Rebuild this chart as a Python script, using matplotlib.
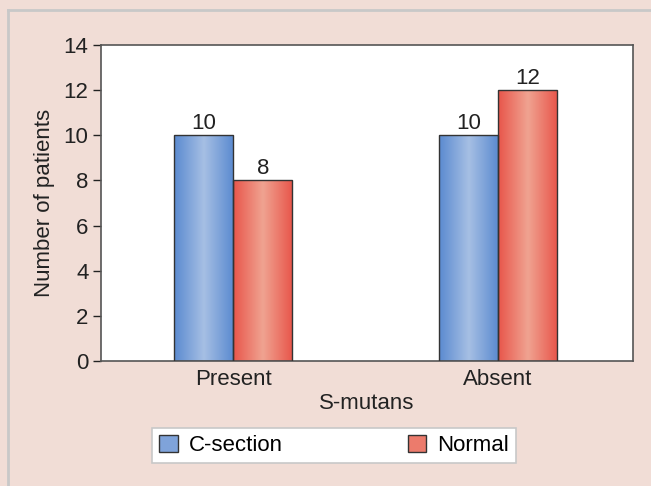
import numpy as np
import matplotlib.pyplot as plt
from matplotlib.patches import Patch, Rectangle
from matplotlib.colors import LinearSegmentedColormap

plt.rcParams['font.family'] = ['Liberation Sans', 'DejaVu Sans']

categories = ['Present', 'Absent']
c_section = [10, 10]
normal = [8, 12]
series_names = ['C-section', 'Normal']

bg = '#f1ddd6'
fs = 16
blue_cmap = LinearSegmentedColormap.from_list('b', ['#5a8ad0', '#a6bfe4', '#5a8ad0'])
red_cmap = LinearSegmentedColormap.from_list('r', ['#e8554a', '#f0a391', '#e8554a'])

fig = plt.figure(figsize=(6.51, 4.86), dpi=100, facecolor=bg)
ax = fig.add_axes([101 / 651, 1 - 361 / 486, 532 / 651, 316 / 486])

# light gray frame along top and left of the figure
fig.add_artist(plt.Line2D([8 / 651, 1], [1 - 10 / 486] * 2, color='#c8c8c8', lw=2))
fig.add_artist(plt.Line2D([8 / 651] * 2, [0, 1 - 10 / 486], color='#c8c8c8', lw=2))

x = np.arange(len(categories))
w = 0.223
grad = np.linspace(0, 1, 256).reshape(1, -1)


def gradient_bars(xpos, vals, cmap):
    bars = ax.bar(xpos, vals, w, color='none', edgecolor='#333333', lw=1.0, zorder=3)
    for b in bars:
        x0, y0 = b.get_x(), b.get_y()
        im = ax.imshow(grad, cmap=cmap, aspect='auto', zorder=2,
                       extent=[x0, x0 + b.get_width(), y0, y0 + b.get_height()])
        im.set_clip_path(Rectangle((x0, y0), b.get_width(), b.get_height(), transform=ax.transData))
    return bars


b1 = gradient_bars(x - w / 2, c_section, blue_cmap)
b2 = gradient_bars(x + w / 2, normal, red_cmap)

for bars, vals in [(b1, c_section), (b2, normal)]:
    for b, v in zip(bars, vals):
        ax.text(b.get_x() + b.get_width() / 2, v + 0.05, str(v), ha='center', va='bottom',
                fontsize=fs, color='#222222')

ax.set_xlim(-0.5, 1.51)
ax.set_ylim(0, 14)
ax.set_yticks(range(0, 15, 2))
ax.set_xticks(x)
ax.set_xticklabels(categories)
ax.tick_params(axis='x', length=0, labelsize=fs, pad=6, colors='#222222')
ax.tick_params(axis='y', length=6, width=1, labelsize=fs, colors='#222222', direction='out', pad=3)
for s in ax.spines.values():
    s.set_color('#555555')
    s.set_linewidth(1.2)
ax.set_xlabel('S-mutans', fontsize=fs, color='#222222', labelpad=2)
ax.set_ylabel('Number of patients', fontsize=fs, color='#222222', labelpad=6)

handles = [Patch(facecolor='#7fa3da', edgecolor='#333333'),
           Patch(facecolor='#ec7b6c', edgecolor='#333333')]
leg = fig.legend(handles, series_names, ncol=2, mode='expand', fontsize=fs,
                 bbox_to_anchor=(152 / 651, 1 - 463 / 486, 364 / 651, 35 / 486),
                 loc='center', frameon=True, fancybox=False, framealpha=1, borderaxespad=0,
                 handlelength=0.85, handleheight=0.85, borderpad=0.3, handletextpad=0.5)
leg.get_frame().set_edgecolor('#c8c8c8')
leg.get_frame().set_facecolor('white')
leg.get_frame().set_linewidth(1.2)

fig.savefig('out.png', dpi=100, facecolor=bg)
